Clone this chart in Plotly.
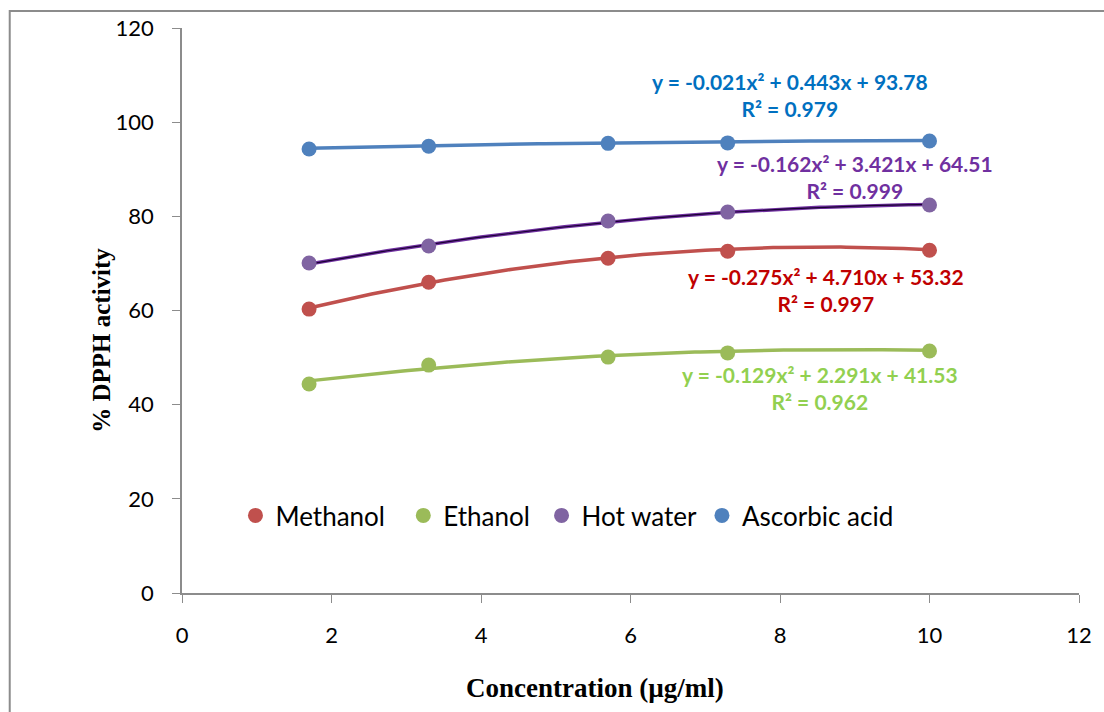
import numpy as np
import plotly.graph_objects as go

# Concentration levels (µg/ml)
conc = [1.7, 3.3, 5.7, 7.3, 10]

# % DPPH scavenging activity per extract
methanol = [60.3, 66.0, 71.1, 72.6, 72.8]
ethanol = [44.4, 48.4, 50.1, 51.0, 51.4]
hot_water = [70.1, 73.7, 79.0, 80.9, 82.4]
ascorbic = [94.3, 94.9, 95.5, 95.6, 96.0]

# Quadratic trendline coefficients (a, b, c) for y = a*x^2 + b*x + c, with R^2
fit_methanol = (-0.275, 4.710, 53.32, 0.997)
fit_ethanol = (-0.129, 2.291, 41.53, 0.962)
fit_hot_water = (-0.162, 3.421, 64.51, 0.999)
fit_ascorbic = (-0.021, 0.443, 93.78, 0.979)

W, H = 1104, 712
L, R, T, B = 182, 16, 28, 119


def px(x):
    return (x - L) / (W - L - R)


def py(y):
    return 1 - (y - T) / (H - T - B)


# name, values, fit, marker colour, trendline colour, label colour, label centre (px),
# legend padding
series = [
    ("Methanol", methanol, fit_methanol, "#C0504D", "#C0504D", "#C00000", 832, 290, 2),
    ("Ethanol", ethanol, fit_ethanol, "#9BBB59", "#9BBB59", "#92D050", 826, 388, 1),
    ("Hot water", hot_water, fit_hot_water, "#8064A2", "#7030A0", "#7030A0", 862, 177, 0),
    ("Ascorbic acid", ascorbic, fit_ascorbic, "#4F81BD", "#4F81BD", "#0070C0", 796, 95, 0),
]

fig = go.Figure()
xs = np.linspace(min(conc), max(conc), 120)

# trendlines first so markers sit on top
for name, ys, (a, b, c, r2), mcol, lcol, tcol, ax, ay, pad in series:
    fig.add_trace(go.Scatter(x=xs, y=a * xs**2 + b * xs + c, mode="lines",
                             line=dict(color=lcol, width=3.5), showlegend=False,
                             hoverinfo="skip"))
    if name == "Hot water":
        fig.add_trace(go.Scatter(x=xs, y=a * xs**2 + b * xs + c, mode="lines",
                                 line=dict(color="#1a0033", width=1.2), showlegend=False,
                                 hoverinfo="skip"))

# legend entries padded so they spread out along the row
for name, ys, fit, mcol, lcol, tcol, ax, ay, pad in series:
    fig.add_trace(go.Scatter(x=conc, y=ys, mode="markers", name=name + "\u00a0" * pad,
                             marker=dict(color=mcol, size=15, line=dict(width=0))))


def fmt(a, b, c, r2):
    return f"y = {a:.3f}x² + {b:.3f}x + {c:.2f}<br>R² = {r2:.3f}"


for name, ys, (a, b, c, r2), mcol, lcol, tcol, ax, ay, pad in series:
    fig.add_annotation(x=px(ax), y=py(ay), xref="paper", yref="paper",
                       xanchor="center", yanchor="middle", text=fmt(a, b, c, r2),
                       showarrow=False, align="center",
                       font=dict(family="Lato", size=21, color=tcol, weight="bold"))

# axis titles
title_font = dict(family="Liberation Serif", color="#000000", weight="bold")
fig.add_annotation(x=px(599), y=py(688), xref="paper", yref="paper",
                   xanchor="center", yanchor="middle", showarrow=False,
                   text="Concentration (µg/ml)", font=dict(size=27, **title_font))
fig.add_annotation(x=px(100), y=py(340), xref="paper", yref="paper",
                   xanchor="center", yanchor="middle", showarrow=False, textangle=-90,
                   text="% DPPH activity", font=dict(size=25, **title_font))

# chart frame
fig.add_shape(type="rect", xref="paper", yref="paper",
              x0=px(8), x1=px(1120), y0=py(730), y1=py(11),
              line=dict(color="#8c8c8c", width=2), layer="below")

axis_font = dict(family="Lato", size=22, color="#000000")
fig.update_xaxes(range=[0, 12], dtick=2, showgrid=False, zeroline=False,
                 showline=True, linecolor="#8c8c8c", linewidth=1.5,
                 ticks="outside", ticklen=8, tickcolor="#8c8c8c", tickfont=axis_font,
                 ticklabelstandoff=14)
fig.update_yaxes(range=[0, 120], dtick=20, showgrid=False, zeroline=False,
                 showline=True, linecolor="#8c8c8c", linewidth=1.5,
                 ticks="outside", ticklen=8, tickcolor="#8c8c8c", tickfont=axis_font,
                 ticklabelstandoff=14)

fig.update_layout(
    width=W, height=H, margin=dict(l=L, r=R, t=T, b=B),
    paper_bgcolor="white", plot_bgcolor="white", showlegend=True,
    legend=dict(orientation="h", x=px(236), y=py(492),
                xanchor="left", yanchor="top", bgcolor="rgba(0,0,0,0)",
                font=dict(family="Lato", size=26, color="#000"),
                itemwidth=30, tracegroupgap=0),
)

fig.write_html("out.html")
